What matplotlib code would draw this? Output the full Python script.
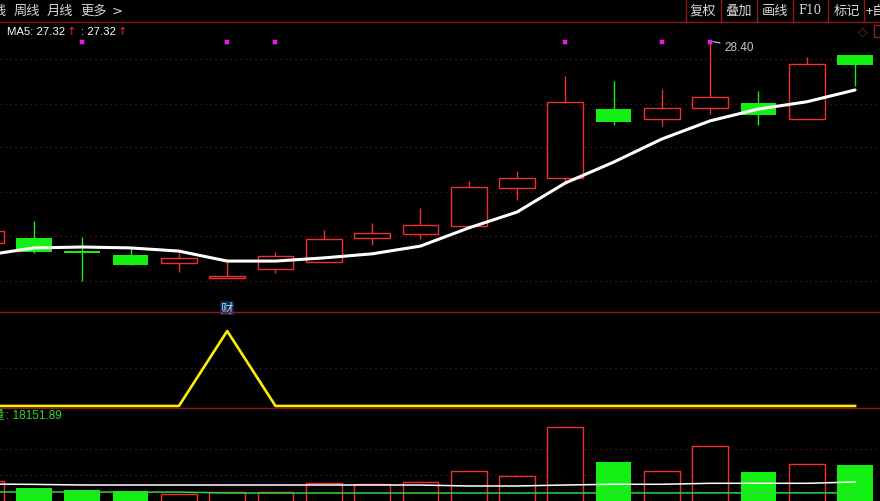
import matplotlib
matplotlib.use("Agg")
import matplotlib.pyplot as plt
from matplotlib.lines import Line2D
from matplotlib.patches import Rectangle

plt.rcParams['font.family'] = ['Noto Sans CJK SC', 'DejaVu Sans']

# ---------------- data ----------------
days = list(range(19))
opens = [23.95, 24.06, 23.77, 23.68, 23.51, 23.18, 23.38, 23.53, 24.06, 24.15,
         24.32, 25.16, 25.38, 26.90, 26.68, 26.92, 27.03, 26.68, 28.09]
highs = [24.28, 24.43, 24.08, 23.86, 23.73, 23.57, 23.75, 24.23, 24.39, 24.72,
         25.31, 25.53, 27.63, 27.52, 27.34, 28.40, 27.30, 28.05, 28.09]
lows = [23.88, 23.73, 23.11, 23.46, 23.31, 23.18, 23.29, 23.53, 23.90, 24.04,
        24.32, 24.90, 25.29, 26.55, 26.53, 26.79, 26.55, 26.68, 27.41]
closes = [24.21, 23.75, 23.73, 23.46, 23.62, 23.22, 23.66, 24.04, 24.17, 24.34,
          25.18, 25.38, 27.06, 26.61, 26.92, 27.17, 26.77, 27.89, 27.87]
ma5 = [23.68, 23.84, 23.86, 23.84, 23.77, 23.55, 23.55, 23.62, 23.71, 23.88,
       24.28, 24.63, 25.27, 25.73, 26.24, 26.64, 26.90, 27.06, 27.32]

signal_days = [2, 5, 6, 12, 14, 15]
signal_level = 28.38
price_grid = [28.00, 27.01, 26.06, 25.07, 24.10, 23.11]

indicator = [0, 0, 0, 0, 0, 1, 0, 0, 0, 0, 0, 0, 0, 0, 0, 0, 0, 0, 0]
news_day = 5

volume = [11840, 9080, 8290, 7890, 6710, 7500, 7500, 11050, 10650, 11440,
          15780, 13810, 33150, 19340, 15780, 25650, 15390, 18550, 18151.89]
vol_ma5 = [10650, 10500, 10260, 10260, 10260, 10260, 10260, 10260, 10260, 10250,
           9870, 9870, 10260, 10540, 10540, 10930, 10930, 10930, 11440]
vol_ma10 = [7500, 7500, 7480, 7470, 7450, 7120, 7110, 7100, 7100, 7100,
            7090, 7090, 7110, 7120, 7120, 7130, 7130, 7140, 7150]
vol_grid = [24470, 14210]

# ---------------- style ----------------
W, H = 880, 502
RED = '#f03030'
GREEN = '#14f014'
BORDER = '#8c1a1a'
GRID = '#6e1212'
TXT = '#d8d8d8'

fig = plt.figure(figsize=(W / 100, H / 100), dpi=100, facecolor='black')


def px_axes(x0, y0, x1, y1):
    a = fig.add_axes([x0 / W, 1 - y1 / H, (x1 - x0) / W, (y1 - y0) / H])
    a.set_facecolor('black')
    a.set_axis_off()
    a.set_xlim(0.296, 18.516)
    return a


def hline(y, x0=0, x1=W, color=BORDER, lw=1.0):
    fig.add_artist(Line2D([x0 / W, x1 / W], [1 - y / H, 1 - y / H],
                          transform=fig.transFigure, color=color, lw=lw))


def ftext(x, y, s, **kw):
    fig.text(x / W, 1 - y / H, s, **kw)


ax = px_axes(0, 22, W, 312)
ax_ind = px_axes(0, 312, W, 409)
ax_vol = px_axes(0, 409, W, 512)

ax.set_ylim(22.45, 28.84)
ax_ind.set_ylim(-0.027, 1.267)
ax_vol.set_ylim(0, 40640)

# grid lines (behind everything)
for g in price_grid:
    ax.axhline(g, color=GRID, lw=0.9, ls=(0, (1, 3)), zorder=0)
ax_ind.axhline(0.5, color=GRID, lw=0.9, ls=(0, (1, 3)), zorder=0)
for g in vol_grid:
    ax_vol.axhline(g, color=GRID, lw=0.9, ls=(0, (1, 3)), zorder=0)

# candles
bw = 0.74
for i, o, h, l, c in zip(days, opens, highs, lows, closes):
    if c >= o:
        ax.vlines(i, c, h, color=RED, lw=1, zorder=2)
        ax.vlines(i, l, o, color=RED, lw=1, zorder=2)
        ax.bar(i, c - o, bottom=o, width=bw, facecolor='black', edgecolor=RED, lw=1, zorder=2)
    else:
        ax.vlines(i, l, h, color=GREEN, lw=1, zorder=2)
        ax.bar(i, max(o - c, 0.03), bottom=c, width=bw, color=GREEN, lw=0, zorder=2)

ax.plot(days, ma5, color='white', lw=2.2, solid_capstyle='round', zorder=5)
ax.plot(signal_days, [signal_level] * len(signal_days), ls='none', marker='x',
        ms=3.5, mew=1.6, color='#e020e0', zorder=6)
ax.annotate("28.40", xy=(15, highs[15]), xytext=(14, -6), textcoords='offset pixels',
            color='#c8c8c8', fontsize=8.5, family='Liberation Sans', va='center', ha='left',
            arrowprops=dict(arrowstyle='-', color='#c8c8c8', lw=0.8, shrinkA=1, shrinkB=2))
ax.text(news_day, 22.51, "财", color='#a8d8ff', fontsize=9, ha='center', va='center',
        bbox=dict(boxstyle='square,pad=0.05', facecolor='#0e2848', edgecolor='none'))

# indicator panel
ax_ind.plot(days, indicator, color='#ffee00', lw=1.9, zorder=3)

# volume panel
for i, o, c, v in zip(days, opens, closes, volume):
    if c >= o:
        ax_vol.bar(i, v, width=bw, facecolor='black', edgecolor=RED, lw=1, zorder=2)
    else:
        ax_vol.bar(i, v, width=bw, color=GREEN, lw=0, zorder=2)
ax_vol.plot(days, vol_ma5, color='white', lw=1.1, zorder=4)
ax_vol.plot(days, vol_ma10, color='#30d830', lw=1.1, zorder=4)

# panel borders
hline(22.5)
hline(312.5)
hline(409)

# top toolbar
for x, s in [(-8, "线"), (14, "周线"), (47, "月线"), (80, "更多")]:
    ftext(x, 11, s, color=TXT, fontsize=9.5, va='center', ha='left')
ftext(112, 11, ">", color=TXT, fontsize=9.5, va='center', ha='left', family='DejaVu Sans')
for x in [686, 721, 757, 793, 828, 864]:
    fig.add_artist(Line2D([x / W, x / W], [1 - 22 / H, 1.0], transform=fig.transFigure,
                          color=BORDER, lw=1))
for x, s in [(703, "复权"), (739, "叠加"), (775, "画线"), (847, "标记")]:
    ftext(x, 11, s, color=TXT, fontsize=9.5, va='center', ha='center')
ftext(810, 11, "F10", color=TXT, fontsize=8.5, va='center', ha='center', family='DejaVu Serif')
ftext(866, 11, "+自", color=TXT, fontsize=9.5, va='center', ha='left')

# legend line of the main panel
ftext(7, 32, "MA5: 27.32", color='white', fontsize=8.2, va='center', ha='left',
      family='Liberation Sans')
ftext(71, 32, "↑", color='#ff2020', fontsize=8.2, va='center', ha='center', family='DejaVu Sans')
ftext(81, 32, ": 27.32", color='white', fontsize=8.2, va='center', ha='left',
      family='Liberation Sans')
ftext(122, 32, "↑", color='#ff2020', fontsize=8.2, va='center', ha='center', family='DejaVu Sans')
ftext(863, 32, "◇", color='#8c2020', fontsize=9, va='center', ha='center', family='DejaVu Sans')
fig.add_artist(Rectangle((874 / W, 1 - 38 / H), 10 / W, 12 / H, transform=fig.transFigure,
                         facecolor='none', edgecolor='#8c2020', lw=1))

# volume legend
ftext(-9, 416, "量", color='#30d830', fontsize=9, va='center', ha='left')
ftext(6, 416, ": 18151.89", color='#30d830', fontsize=8.5, va='center', ha='left',
      family='Liberation Sans')

fig.savefig("out.png", dpi=100, facecolor='black')
